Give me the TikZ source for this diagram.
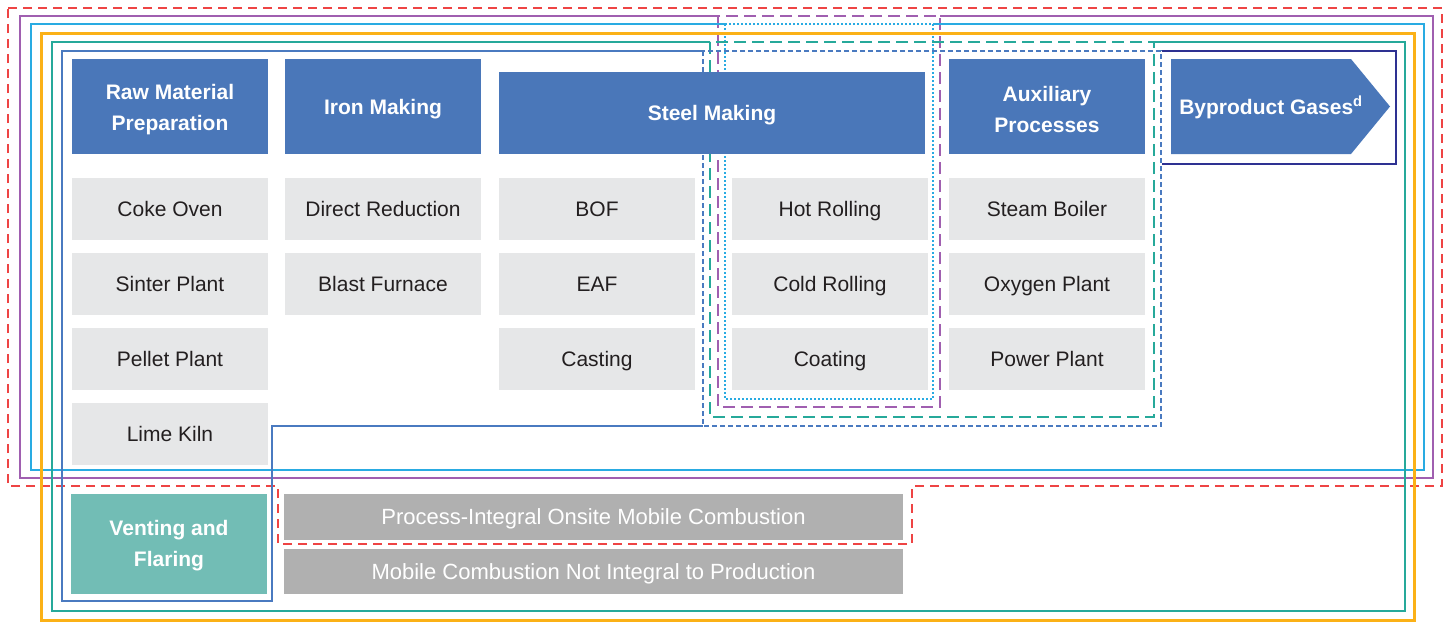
\documentclass[tikz,border=0pt]{standalone}
\usepackage{fontspec}
\setmainfont{Liberation Sans}
\usepackage{tikz}

\definecolor{hdrblue}{HTML}{4A77B9}
\definecolor{boxgray}{HTML}{E6E7E8}
\definecolor{mobgray}{HTML}{B0B0B0}
\definecolor{ventteal}{HTML}{72BDB5}
\definecolor{txtdark}{HTML}{231F20}
\definecolor{lnred}{HTML}{EE4444}
\definecolor{lnpurple}{HTML}{A05FB0}
\definecolor{lncyan}{HTML}{29ABE2}
\definecolor{lnorange}{HTML}{FBB117}
\definecolor{lnteal}{HTML}{26A99A}
\definecolor{lnblue}{HTML}{4A7AC0}
\definecolor{lnnavy}{HTML}{2E3192}

\tikzset{
  hdr/.style={fill=hdrblue, text=white, align=center, inner sep=0pt,
    minimum width=196pt, minimum height=95pt,
    font=\fontsize{21}{31}\selectfont\bfseries},
  hdrone/.style={hdr, text height=15pt, text depth=0pt},
  proc/.style={fill=boxgray, text=txtdark, inner sep=0pt,
    minimum width=196pt, minimum height=62pt,
    text height=15pt, text depth=0pt,
    font=\fontsize{21}{25}\selectfont},
  mob/.style={fill=mobgray, text=white, inner sep=0pt,
    minimum width=619pt, minimum height=46pt,
    text height=15.5pt, text depth=0pt,
    font=\fontsize{22}{26}\selectfont},
  bnd/.style={line width=1.5pt}
}

\begin{document}
\begin{tikzpicture}[x=1pt, y=-1pt]
\useasboundingbox (0,0) rectangle (1449,622);

\draw[bnd, lnred, dash pattern=on 9pt off 6pt] (8,8) -- (1442,8) -- (1442,486) -- (912,486) -- (912,544) -- (278,544) -- (278,486) -- (8,486) -- cycle;
\draw[bnd, lnpurple] (718,16) -- (20,16) -- (20,478) -- (1433,478) -- (1433,16) -- (940,16);
\draw[bnd, lnpurple, dash pattern=on 12pt off 6pt] (718,16) rectangle (940,407);
\draw[bnd, lncyan] (725,24) -- (31,24) -- (31,470) -- (1424,470) -- (1424,24) -- (933,24);
\draw[bnd, lncyan, dash pattern=on 2pt off 2pt] (725,24) rectangle (933,399);
\draw[line width=3pt, lnorange] (41,33) rectangle (1414,620.5);
\draw[bnd, lnteal] (710,42) -- (52,42) -- (52,611) -- (1405,611) -- (1405,42) -- (1154,42);
\draw[bnd, lnteal, dash pattern=on 12pt off 6pt] (710,42) rectangle (1154,417);
\draw[bnd, lnblue] (703,51) -- (62,51) -- (62,601) -- (272,601) -- (272,426) -- (703,426);
\draw[bnd, lnblue, dash pattern=on 5pt off 3pt] (703,51) rectangle (1161,426);
\draw[bnd, lnnavy] (1162,51) -- (1396,51) -- (1396,164) -- (1162,164);

\fill[hdrblue] (72,59) rectangle (268,154);
\node[hdr, fill=none] (raw) at (170,109.5) {Raw Material\\Preparation};
\node[hdrone] (iron) at (383,106.5) {Iron Making};
\node[hdrone, minimum width=426pt, minimum height=82pt] (steel) at (712,113) {Steel Making};
\fill[hdrblue] (949,59) rectangle (1145,154);
\node[hdr, fill=none] (aux) at (1047,109.5) {Auxiliary\\Processes};
\fill[hdrblue] (1171,59) -- (1351,59) -- (1390,106.5) -- (1351,154) -- (1171,154) -- cycle;
\node[text=white, text height=15pt, text depth=0pt, font=\fontsize{21}{25}\selectfont\bfseries] (gas) at (1271,107) {Byproduct Gases\textsuperscript{d}};

\node[proc] (coke) at (170,208.5) {Coke Oven};
\node[proc] (sinter) at (170,284) {Sinter Plant};
\node[proc] (pellet) at (170,359) {Pellet Plant};
\node[proc] (lime) at (170,434) {Lime Kiln};
\node[proc] (dri) at (383,208.5) {Direct Reduction};
\node[proc] (bf) at (383,284) {Blast Furnace};
\node[proc] (bof) at (597,208.5) {BOF};
\node[proc] (eaf) at (597,284) {EAF};
\node[proc] (cast) at (597,359) {Casting};
\node[proc] (hot) at (830,208.5) {Hot Rolling};
\node[proc] (cold) at (830,284) {Cold Rolling};
\node[proc] (coat) at (830,359) {Coating};
\node[proc] (boiler) at (1047,208.5) {Steam Boiler};
\node[proc] (oxy) at (1047,284) {Oxygen Plant};
\node[proc] (power) at (1047,359) {Power Plant};

\fill[ventteal] (71,494) rectangle (267,594);
\node[hdr, fill=none] (vent) at (169,546) {Venting and\\Flaring};
\node[mob] (mobin) at (593.5,517) {Process-Integral Onsite Mobile Combustion};
\node[mob, minimum height=45pt] (mobout) at (593.5,571.5) {Mobile Combustion Not Integral to Production};
\end{tikzpicture}
\end{document}
